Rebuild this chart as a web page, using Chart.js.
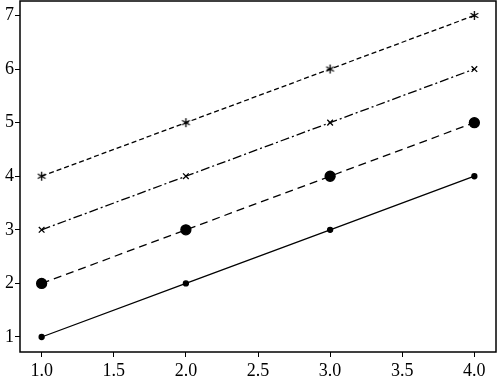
<!DOCTYPE html>
<html><head><meta charset="utf-8">
<script src="https://cdn.jsdelivr.net/npm/chart.js@4/dist/chart.umd.min.js"></script>
<style>html,body{margin:0;padding:0;background:#fff}#wrap{width:500px;height:379px}</style>
</head><body><div id="wrap"><canvas id="c"></canvas></div>
<script>
const xValues = [1.0, 2.0, 3.0, 4.0];
const solidLine = [1, 2, 3, 4];
const dashedLine = [2, 3, 4, 5];
const dashDotLine = [3, 4, 5, 6];
const dottedLine = [4, 5, 6, 7];
const xTicks = [1.0, 1.5, 2.0, 2.5, 3.0, 3.5, 4.0];
const yTicks = [1, 2, 3, 4, 5, 6, 7];

const pts = arr => xValues.map((x, i) => ({x, y: arr[i]}));
const font = {family: "'Liberation Serif', 'Times New Roman', serif", size: 18};

// asterisk marker
const ast = document.createElement('canvas');
ast.width = 11; ast.height = 11;
(() => {
  const g = ast.getContext('2d');
  g.strokeStyle = '#000'; g.lineWidth = 1.3;
  const c = 5.5, r = 4.5;
  g.beginPath();
  for (const deg of [90, 30, 150]) {
    const t = deg * Math.PI / 180;
    g.moveTo(c - r * Math.cos(t), c - r * Math.sin(t));
    g.lineTo(c + r * Math.cos(t), c + r * Math.sin(t));
  }
  g.stroke();
})();

const frame = {
  id: 'frame',
  afterDraw(chart) {
    const {ctx, chartArea: a} = chart;
    ctx.save();
    ctx.strokeStyle = '#000';
    ctx.lineWidth = 1.5;
    ctx.strokeRect(a.left, a.top, a.right - a.left, a.bottom - a.top);
    ctx.restore();
  }
};

new Chart(document.getElementById('c'), {
  type: 'line',
  data: {
    datasets: [
      {data: pts(solidLine), borderColor: '#000', backgroundColor: '#000', borderWidth: 1.3, pointRadius: 2.5, pointStyle: 'circle'},
      {data: pts(dashedLine), borderColor: '#000', backgroundColor: '#000', borderWidth: 1.3, borderDash: [8, 5], pointRadius: 5, pointStyle: 'circle'},
      {data: pts(dashDotLine), borderColor: '#000', backgroundColor: '#000', borderWidth: 1.3, borderDash: [9, 3, 2, 3], pointRadius: 4, pointBorderWidth: 1.3, pointStyle: 'crossRot'},
      {data: pts(dottedLine), borderColor: '#000', backgroundColor: '#000', borderWidth: 1.3, borderDash: [5, 3], pointRadius: 5, pointStyle: ast}
    ]
  },
  options: {
    responsive: true, maintainAspectRatio: false, animation: false,
    layout: {autoPadding: false, padding: {top: 1, right: 4, left: 0, bottom: 0}},
    plugins: {legend: {display: false}, tooltip: {enabled: false}},
    scales: {
      x: {
        type: 'linear', min: 0.85, max: 4.15,
        afterBuildTicks: s => { s.ticks = xTicks.map(v => ({value: v})); },
        afterFit: s => { s.height = 27; s.paddingLeft = 0; s.paddingRight = 0; },
        grid: {display: true, drawOnChartArea: false, drawTicks: true, tickLength: 5, color: '#000', lineWidth: 1},
        border: {display: false},
        ticks: {color: '#000', font, padding: 3, maxRotation: 0, callback: v => v.toFixed(1)}
      },
      y: {
        type: 'linear', min: 0.72, max: 7.27,
        afterBuildTicks: s => { s.ticks = yTicks.map(v => ({value: v})); },
        afterFit: s => { s.width = 20; s.paddingTop = 0; s.paddingBottom = 0; },
        grid: {display: true, drawOnChartArea: false, drawTicks: true, tickLength: 5, color: '#000', lineWidth: 1},
        border: {display: false},
        ticks: {color: '#000', font, padding: 1, callback: v => String(v)}
      }
    }
  },
  plugins: [frame]
});
</script></body></html>
